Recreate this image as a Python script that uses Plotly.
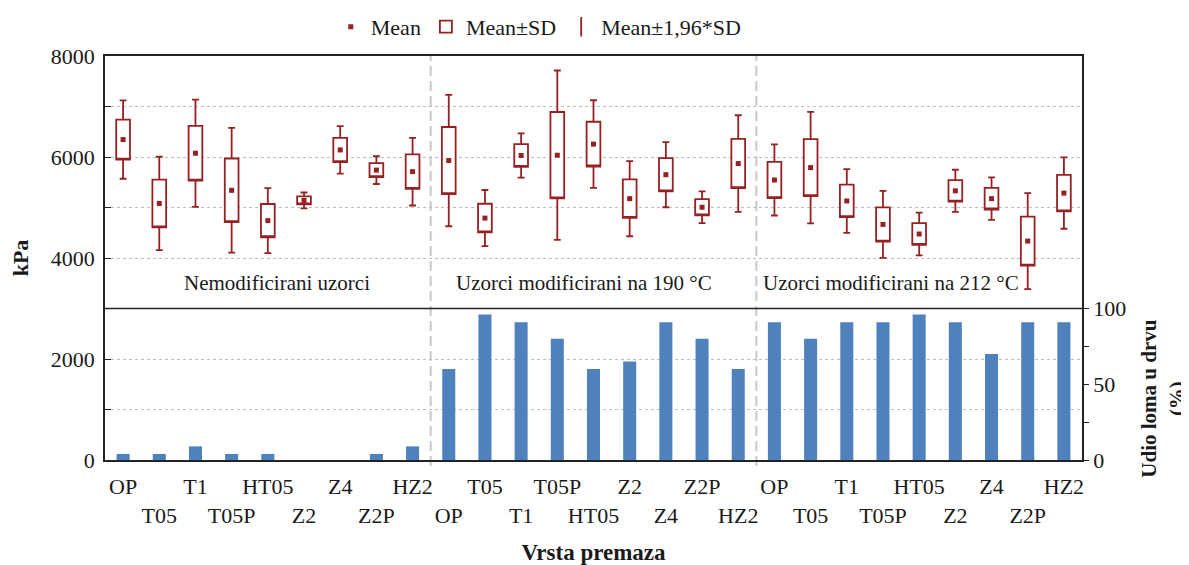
import plotly.graph_objects as go

categories = ["OP", "T05", "T1", "T05P", "HT05", "Z2", "Z4", "Z2P", "HZ2",
              "OP", "T05", "T1", "T05P", "HT05", "Z2", "Z4", "Z2P", "HZ2",
              "OP", "T05", "T1", "T05P", "HT05", "Z2", "Z4", "Z2P", "HZ2"]

mean_kpa = [6345, 5080, 6075, 5340, 4740, 5140, 6140, 5740, 5710,
            5930, 4790, 6030, 6035, 6255, 5175, 5650, 5005, 5870,
            5545, 5790, 5130, 4665, 4475, 5330, 5175, 4335, 5285]

sd_kpa = [396, 472, 542, 630, 329, 80, 240, 140, 342,
          664, 284, 224, 856, 443, 380, 329, 160, 488,
          359, 564, 322, 339, 216, 213, 215, 485, 360]

wood_failure_pct = [4, 4, 9, 4, 4, 0, 0, 4, 9,
                    60, 96, 91, 80, 60, 65, 91, 80, 60,
                    91, 80, 91, 91, 96, 91, 70, 91, 91]

group_labels = ["Nemodificirani uzorci", "Uzorci modificirani na 190 °C",
                "Uzorci modificirani na 212 °C"]

left_ticks = [0, 1000, 2000, 3000, 4000, 5000, 6000, 7000, 8000]
left_ticktext = ["0", "", "2000", "", "4000", "", "6000", "", "8000"]
right_ticks = [0, 25, 50, 75, 100]
right_ticktext = ["0", "", "50", "", "100"]

RED = "#962123"
BLUE = "#4f81bd"
TXT = "#1a1a1a"
FONT = "Liberation Serif"
FS = 21
TFS = 22

pos = list(range(len(categories)))
q1 = [m - s for m, s in zip(mean_kpa, sd_kpa)]
q3 = [m + s for m, s in zip(mean_kpa, sd_kpa)]
lo = [m - 1.96 * s for m, s in zip(mean_kpa, sd_kpa)]
hi = [m + 1.96 * s for m, s in zip(mean_kpa, sd_kpa)]
ticktext = [c if i % 2 == 0 else "<br>" + c for i, c in enumerate(categories)]

fig = go.Figure()

fig.add_trace(go.Bar(
    x=pos, y=wood_failure_pct, yaxis="y2", width=0.36,
    marker=dict(color=BLUE, line=dict(width=0)), showlegend=False,
))

fig.add_trace(go.Box(
    x=pos, q1=q1, q3=q3, median=q1, lowerfence=lo, upperfence=hi,
    name="Mean±SD", width=0.38, whiskerwidth=0.5, boxpoints=False,
    fillcolor="white", line=dict(color=RED, width=1.8),
    legendrank=2,
))

fig.add_trace(go.Scatter(
    x=pos, y=mean_kpa, mode="markers", name="Mean",
    marker=dict(symbol="square", size=5, color=RED),
    legendrank=1,
))

fig.add_trace(go.Scatter(
    x=[None], y=[None], mode="markers", name="Mean±1,96*SD",
    marker=dict(symbol="line-ns-open", size=14, color=RED,
                line=dict(color=RED, width=1.8)),
    legendrank=3,
))

shapes = [
    dict(type="line", xref="paper", yref="y", x0=0, x1=1, y0=3000, y1=3000,
         line=dict(color="#222", width=1.6), layer="above"),
]
for xb in (8.5, 17.5):
    shapes.append(dict(type="line", xref="x", yref="paper", x0=xb, x1=xb,
                       y0=-0.015, y1=1, line=dict(color="#c8c8c8", width=2,
                                                 dash="10px,5px"),
                       layer="below"))

annotations = []
for gx, lab in zip((4.24, 12.75, 21.23), group_labels):
    annotations.append(dict(x=gx, y=3500, xref="x", yref="y", text=lab,
                            showarrow=False, font=dict(family=FONT, size=FS, color=TXT),
                            xanchor="center", yanchor="middle"))
annotations.append(dict(x=1.083, y=0.152, xref="paper", yref="paper",
                        text="<b>Udio loma u drvu<br>(%)</b>", textangle=-90,
                        showarrow=False, font=dict(family=FONT, size=FS, color=TXT),
                        xanchor="center", yanchor="middle"))

# the page body adds an 8px offset; margins compensate for it
fig.update_layout(
    width=1181, height=557,
    margin=dict(l=97, r=107, t=48, b=105, autoexpand=False),
    paper_bgcolor="white", plot_bgcolor="white",
    font=dict(family=FONT, size=TFS, color=TXT),
    shapes=shapes, annotations=annotations,
    legend=dict(orientation="h", x=0.444, xanchor="center", y=1.072,
                yanchor="middle", itemwidth=30, font=dict(size=TFS),
                traceorder="normal", bgcolor="rgba(0,0,0,0)"),
    xaxis=dict(range=[-0.5, 26.5], tickmode="array", tickvals=pos,
               ticktext=ticktext, ticks="", tickangle=0, automargin=False,
               showgrid=False, zeroline=False, tickfont=dict(size=TFS),
               showline=True, mirror=True, linecolor="#222", linewidth=1.6,
               title=dict(text="<b>Vrsta premaza</b>", standoff=18,
                          font=dict(size=23)),
               ticklabelstandoff=6),
    yaxis=dict(range=[0, 8000], tickmode="array", tickvals=left_ticks,
               ticktext=left_ticktext, ticks="inside", ticklen=6,
               tickcolor="#222", showgrid=True, gridcolor="#bdbdbd",
               griddash="dot", gridwidth=1, zeroline=False, showline=True,
               linecolor="#222", linewidth=1.6, automargin=False,
               tickfont=dict(size=TFS),
               title=dict(text="<b>kPa</b>", standoff=16, font=dict(size=TFS)),
               ticklabelstandoff=4),
    yaxis2=dict(range=[0, 8000 / 30], overlaying="y", side="right",
                tickmode="array", tickvals=right_ticks, ticktext=right_ticktext,
                ticks="outside", ticklen=5, tickcolor="#222", showgrid=False,
                automargin=False, tickfont=dict(size=TFS),
                zeroline=False, showline=True, linecolor="#222", linewidth=1.6),
)

fig.write_html("out.html")
